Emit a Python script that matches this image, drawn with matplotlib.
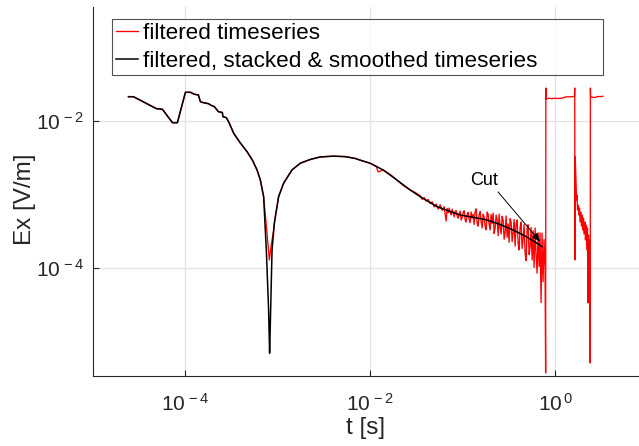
import matplotlib
matplotlib.use("Agg")
import matplotlib.pyplot as plt
from matplotlib.ticker import FixedLocator, FixedFormatter, NullLocator

plt.rcParams['font.family'] = ['Liberation Sans', 'DejaVu Sans']
plt.rcParams['mathtext.fontset'] = 'custom'
plt.rcParams['mathtext.rm'] = 'Liberation Sans'
plt.rcParams['mathtext.it'] = 'Liberation Sans:italic'
plt.rcParams['mathtext.bf'] = 'Liberation Sans:bold'

# ---------------- data ----------------
black_t = [2.42e-5, 2.74e-5, 4.86e-5, 5.64e-5, 7.24e-5, 8.19e-5, 1.0e-4, 1.133e-4,
           1.251e-4, 1.382e-4, 1.453e-4, 1.565e-4, 1.773e-4, 1.910e-4, 2.058e-4,
           2.274e-4, 2.512e-4, 2.543e-4, 2.774e-4, 2.989e-4, 3.329e-4, 3.932e-4,
           4.645e-4, 5.30e-4, 5.96e-4, 6.47e-4, 7.02e-4, 7.51e-4, 7.95e-4, 8.15e-4,
           8.30e-4, 8.66e-4, 9.17e-4, 1.020e-3, 1.155e-3, 1.424e-3, 1.750e-3,
           2.245e-3, 2.881e-3, 3.981e-3, 5.37e-3, 6.88e-3, 0.0100, 0.01382, 0.01943,
           0.02706, 0.03472, 0.05300, 0.07325, 0.09397, 0.1365, 0.1840, 0.2543,
           0.3515, 0.4740, 0.6078, 0.7234]
black_y = [0.02114, 0.02114, 0.01454, 0.01428, 0.00939, 0.00939, 0.02425, 0.02425,
           0.02279, 0.02230, 0.01809, 0.01753, 0.01700, 0.01607, 0.01548,
           0.01324, 0.01291, 0.01133, 0.01098, 0.00922, 0.00675, 0.00498,
           0.00380, 0.00293, 0.002148, 0.001572, 9.34e-4, 1.77e-4, 2.72e-5, 7.05e-6,
           1.81e-5, 1.77e-4, 4.11e-4, 9.34e-4, 1.418e-3, 2.148e-3, 2.647e-3,
           2.980e-3, 3.222e-3, 3.304e-3, 3.253e-3, 3.075e-3, 2.647e-3, 2.148e-3, 1.572e-3,
           1.151e-3, 9.34e-4, 6.83e-4, 5.88e-4, 5.27e-4, 4.85e-4, 4.51e-4, 3.92e-4,
           3.30e-4, 2.74e-4, 2.27e-4, 1.96e-4]

red_t = [2.42e-5, 2.74e-5, 4.86e-5, 5.64e-5, 7.24e-5, 8.19e-5, 1.0e-4, 1.133e-4,
         1.251e-4, 1.382e-4, 1.453e-4, 1.565e-4, 1.773e-4, 1.910e-4, 2.058e-4,
         2.274e-4, 2.512e-4, 2.543e-4, 2.774e-4, 2.989e-4, 3.329e-4, 3.932e-4,
         4.645e-4, 5.30e-4, 5.96e-4, 6.47e-4, 7.02e-4,
         7.64e-4, 8.09e-4, 8.44e-4, 9.01e-4, 9.40e-4,
         1.020e-3, 1.155e-3, 1.424e-3, 1.750e-3, 2.245e-3, 2.881e-3, 3.981e-3,
         5.37e-3, 6.88e-3, 8.19e-3, 0.0100, 0.01161, 0.01220, 0.01382, 0.01645,
         0.01943, 0.02274, 0.02706, 0.03065,
         0.0347, 0.0365, 0.0384, 0.0403, 0.0424, 0.0445, 0.0468, 0.0492, 0.0517,
         0.0544, 0.0571, 0.0601, 0.0631,
         0.06632, 0.06799, 0.06971, 0.07147, 0.07327, 0.07512, 0.07701, 0.07895,
         0.08094, 0.08298, 0.08508, 0.08722, 0.08942, 0.09168, 0.09399, 0.09636,
         0.09879, 0.1013, 0.1038, 0.1065, 0.1091, 0.1119, 0.1147, 0.1176, 0.1206,
         0.1236, 0.1267, 0.1299, 0.1332, 0.1366, 0.1400, 0.1436, 0.1472, 0.1509,
         0.1547, 0.1586, 0.1626, 0.1667, 0.1709, 0.1752, 0.1796, 0.1842, 0.1888,
         0.1936, 0.1984, 0.2034, 0.2086, 0.2138, 0.2192, 0.2248, 0.2304, 0.2362,
         0.2422, 0.2483, 0.2545, 0.2610, 0.2675, 0.2743, 0.2812, 0.2883, 0.2955,
         0.3030, 0.3106, 0.3185, 0.3265, 0.3347, 0.3432, 0.3518, 0.3607, 0.3698,
         0.3791, 0.3887, 0.3985, 0.4085, 0.4188, 0.4294, 0.4402, 0.4513, 0.4627,
         0.4744, 0.4863, 0.4986, 0.5111, 0.5240, 0.5372, 0.5508, 0.5647, 0.5789,
         0.5935, 0.6085, 0.6238, 0.6396, 0.6557, 0.6722, 0.6883, 0.7057, 0.7235,
         0.7417, 0.7604, 0.7796,
         0.791, 0.795, 0.803, 0.85, 0.92, 1.0, 1.10, 1.20, 1.28, 1.40, 1.50, 1.625,
         1.633, 1.641, 1.654,
         1.687, 1.709, 1.730, 1.751, 1.773, 1.817, 1.840, 1.864, 1.910, 1.934,
         1.958, 2.006, 2.031, 2.057, 2.108, 2.134, 2.161, 2.215, 2.242, 2.270,
         2.298, 2.327, 2.356, 2.389,
         2.401, 2.413, 2.425, 2.55, 2.707, 2.91, 3.10, 3.30]
red_y = [0.02114, 0.02114, 0.01454, 0.01428, 0.00939, 0.00939, 0.02425, 0.02425,
         0.02279, 0.02230, 0.01809, 0.01753, 0.01700, 0.01607, 0.01548,
         0.01324, 0.01291, 0.01133, 0.01098, 0.00922, 0.00675, 0.00498,
         0.00380, 0.00293, 0.002148, 0.001572, 9.34e-4,
         2.98e-4, 1.296e-4, 1.96e-4, 3.30e-4, 5.00e-4,
         9.34e-4, 1.43e-3, 2.16e-3, 2.66e-3, 2.99e-3, 3.23e-3, 3.31e-3,
         3.26e-3, 3.08e-3, 2.84e-3, 2.65e-3, 2.40e-3, 2.02e-3, 2.15e-3, 1.866e-3,
         1.57e-3, 1.324e-3, 1.15e-3, 1.064e-3,
         9.63e-4, 8.58e-4, 9.08e-4, 8.11e-4, 8.58e-4, 7.53e-4, 7.96e-4, 6.77e-4, 7.41e-4,
         6.34e-4, 7.25e-4, 6.07e-4, 6.83e-4,
         4.37e-4, 6.48e-4, 5.65e-4, 6.54e-4, 5.70e-4, 5.29e-4, 6.32e-4, 5.68e-4,
         4.97e-4, 5.92e-4, 6.05e-4, 5.11e-4, 4.76e-4, 5.49e-4, 5.97e-4, 4.49e-4,
         4.90e-4, 5.70e-4, 6.03e-4, 4.53e-4, 4.23e-4, 5.39e-4, 5.72e-4, 4.57e-4, 4.14e-4,
         5.79e-4, 4.77e-4, 5.39e-4, 3.92e-4, 5.85e-4, 6.38e-4, 4.10e-4, 3.72e-4, 5.38e-4,
         5.87e-4, 4.27e-4, 3.52e-4, 5.41e-4, 4.90e-4, 3.67e-4, 3.32e-4, 5.79e-4, 5.39e-4,
         3.90e-4, 3.30e-4, 5.38e-4, 4.02e-4, 5.60e-4, 2.97e-4, 3.54e-4, 5.26e-4, 4.58e-4,
         2.76e-4, 5.41e-4, 3.57e-4, 2.92e-4, 5.06e-4, 4.54e-4, 2.48e-4, 3.05e-4, 5.11e-4,
         2.61e-4, 4.00e-4, 2.25e-4, 4.70e-4, 4.23e-4, 2.30e-4, 3.01e-4, 4.58e-4, 2.00e-4,
         4.05e-4, 4.51e-4, 2.17e-4, 1.77e-4, 3.57e-4, 4.24e-4, 1.86e-4, 2.49e-4, 3.92e-4,
         1.56e-4, 1.27e-4, 3.50e-4, 3.89e-4, 1.54e-4, 1.94e-4, 3.56e-4, 1.29e-4, 3.22e-4,
         1.03e-4, 3.52e-4, 1.53e-4, 8.58e-5, 3.03e-4, 1.06e-4, 3.01e-4, 3.43e-5, 2.99e-4,
         6.57e-5, 2.46e-4, 9.48e-5,
         3.81e-6, 0.0277, 0.0197, 0.0201, 0.0199, 0.0201, 0.0200, 0.0202, 0.0209, 0.0211,
         0.0210, 0.0214,
         0.0277, 1.30e-4, 3.22e-3,
         1.35e-3, 8.42e-4, 9.84e-4, 6.17e-4, 7.21e-4, 5.27e-4, 6.56e-4, 4.24e-4, 5.79e-4,
         3.74e-4, 5.27e-4, 3.30e-4, 4.80e-4, 2.92e-4, 4.24e-4, 2.42e-4, 3.86e-4, 1.77e-4,
         3.52e-4, 3.39e-5, 2.83e-4, 1.22e-4, 2.42e-4, 9.48e-5,
         5.21e-6, 0.0277, 0.0210, 0.0208, 0.0206, 0.0213, 0.0212, 0.0214]

xtick_vals = [1e-4, 1e-2, 1e0]
xtick_labels = [r'$\mathregular{10^{\,-4}}$', r'$\mathregular{10^{\,-2}}$', r'$\mathregular{10^{\,0}}$']
ytick_vals = [1e-4, 1e-2]
ytick_labels = [r'$\mathregular{10^{\,-4}}$', r'$\mathregular{10^{\,-2}}$']

# ---------------- figure ----------------
fig = plt.figure(figsize=(6.39, 4.46), dpi=100)
ax = fig.add_axes([93/639, 70/446, 546/639, 369/446])

dark = '#262626'
ax.plot(red_t, red_y, color='#ff0000', lw=0.95, label='filtered timeseries')
ax.plot(black_t, black_y, color='black', lw=1.1, label='filtered, stacked & smoothed timeseries')

ax.set_xscale('log')
ax.set_yscale('log')
ax.set_xlim(1e-5, 8.1)
ax.set_ylim(3.47e-6, 0.347)

ax.xaxis.set_major_locator(FixedLocator(xtick_vals))
ax.xaxis.set_major_formatter(FixedFormatter(xtick_labels))
ax.yaxis.set_major_locator(FixedLocator(ytick_vals))
ax.yaxis.set_major_formatter(FixedFormatter(ytick_labels))
ax.xaxis.set_minor_locator(NullLocator())
ax.yaxis.set_minor_locator(NullLocator())

ax.grid(True, which='major', color='#e3e3e3', lw=0.9)
ax.set_axisbelow(True)
for s in ['top', 'right']:
    ax.spines[s].set_visible(False)
for s in ['left', 'bottom']:
    ax.spines[s].set_color(dark)
    ax.spines[s].set_linewidth(0.8)
ax.tick_params(direction='in', length=4, width=0.8, colors=dark, labelsize=15)
ax.tick_params(axis='x', pad=12)
ax.tick_params(axis='y', pad=6)

ax.set_xlabel('t [s]', fontsize=17.5, color=dark)
ax.set_ylabel('Ex [V/m]', fontsize=17.5, color=dark)
ax.xaxis.set_label_coords(0.5, -0.112)
ax.yaxis.set_label_coords(-0.104, 0.48)

leg = ax.legend(loc='upper left', bbox_to_anchor=(0.0348, 0.813, 0.8993, 0.1545),
                mode='expand', borderaxespad=0, fontsize=16.2, frameon=True,
                fancybox=False, handlelength=1.0, handletextpad=0.2,
                labelspacing=0.3, borderpad=0.17)
leg.get_frame().set_edgecolor(dark)
leg.get_frame().set_linewidth(0.8)

ax.text(0.1708, 1.524e-3, 'Cut', fontsize=13, ha='center', va='center', color='black')
ax.annotate('', xy=(0.69, 2.3e-4), xytext=(0.2419, 1.081e-3),
            arrowprops=dict(arrowstyle='-|>,head_length=0.5,head_width=0.2',
                            lw=0.7, color='black', shrinkA=0, shrinkB=0))

fig.savefig('out.png', dpi=100)
